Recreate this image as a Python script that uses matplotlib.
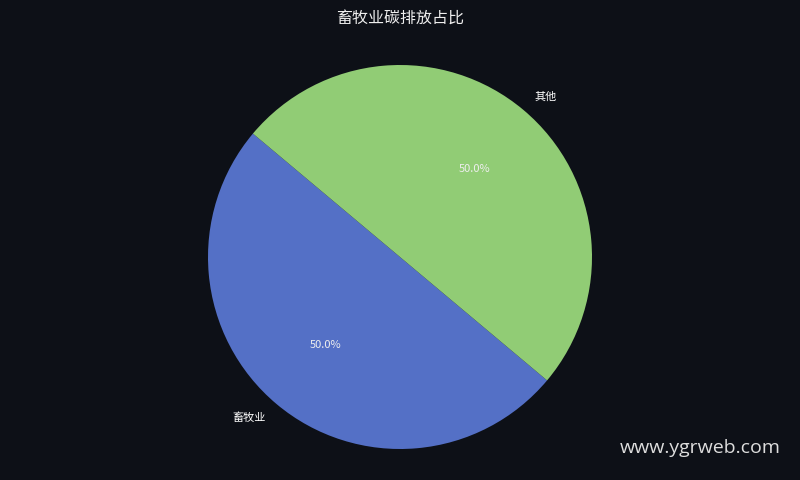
import matplotlib
matplotlib.use("Agg")
import matplotlib.pyplot as plt

plt.rcParams['font.family'] = ['Noto Sans CJK SC', 'DejaVu Sans']

labels = ["畜牧业", "其他"]
values = [50, 50]
colors = ["#5470c6", "#91cc75"]
bg = "#0d1017"

fig = plt.figure(figsize=(8, 4.8), dpi=100, facecolor=bg)
ax = fig.add_axes([208 / 800, (480 - 257 - 192) / 480, 384 / 800, 384 / 480])
ax.set_facecolor(bg)

wedges, texts, autotexts = ax.pie(
    values, labels=labels, colors=colors, startangle=140,
    autopct="%1.1f%%", pctdistance=0.6, labeldistance=1.09,
    textprops={"color": "white", "fontsize": 8},
)
for t in autotexts:
    t.set_color("#eeeeee")
ax.set_xlim(-1, 1)
ax.set_ylim(-1, 1)
ax.set_aspect("equal")

fig.text(0.5, 0.962, "畜牧业碳排放占比", color="#eeeeee", fontsize=11.5,
         ha="center", va="center")
fig.text(0.976, 0.067, "www.ygrweb.com", color="#dddddd", fontsize=14,
         ha="right", va="center", family=["Open Sans", "DejaVu Sans"])

fig.savefig("out.png", facecolor=bg)
